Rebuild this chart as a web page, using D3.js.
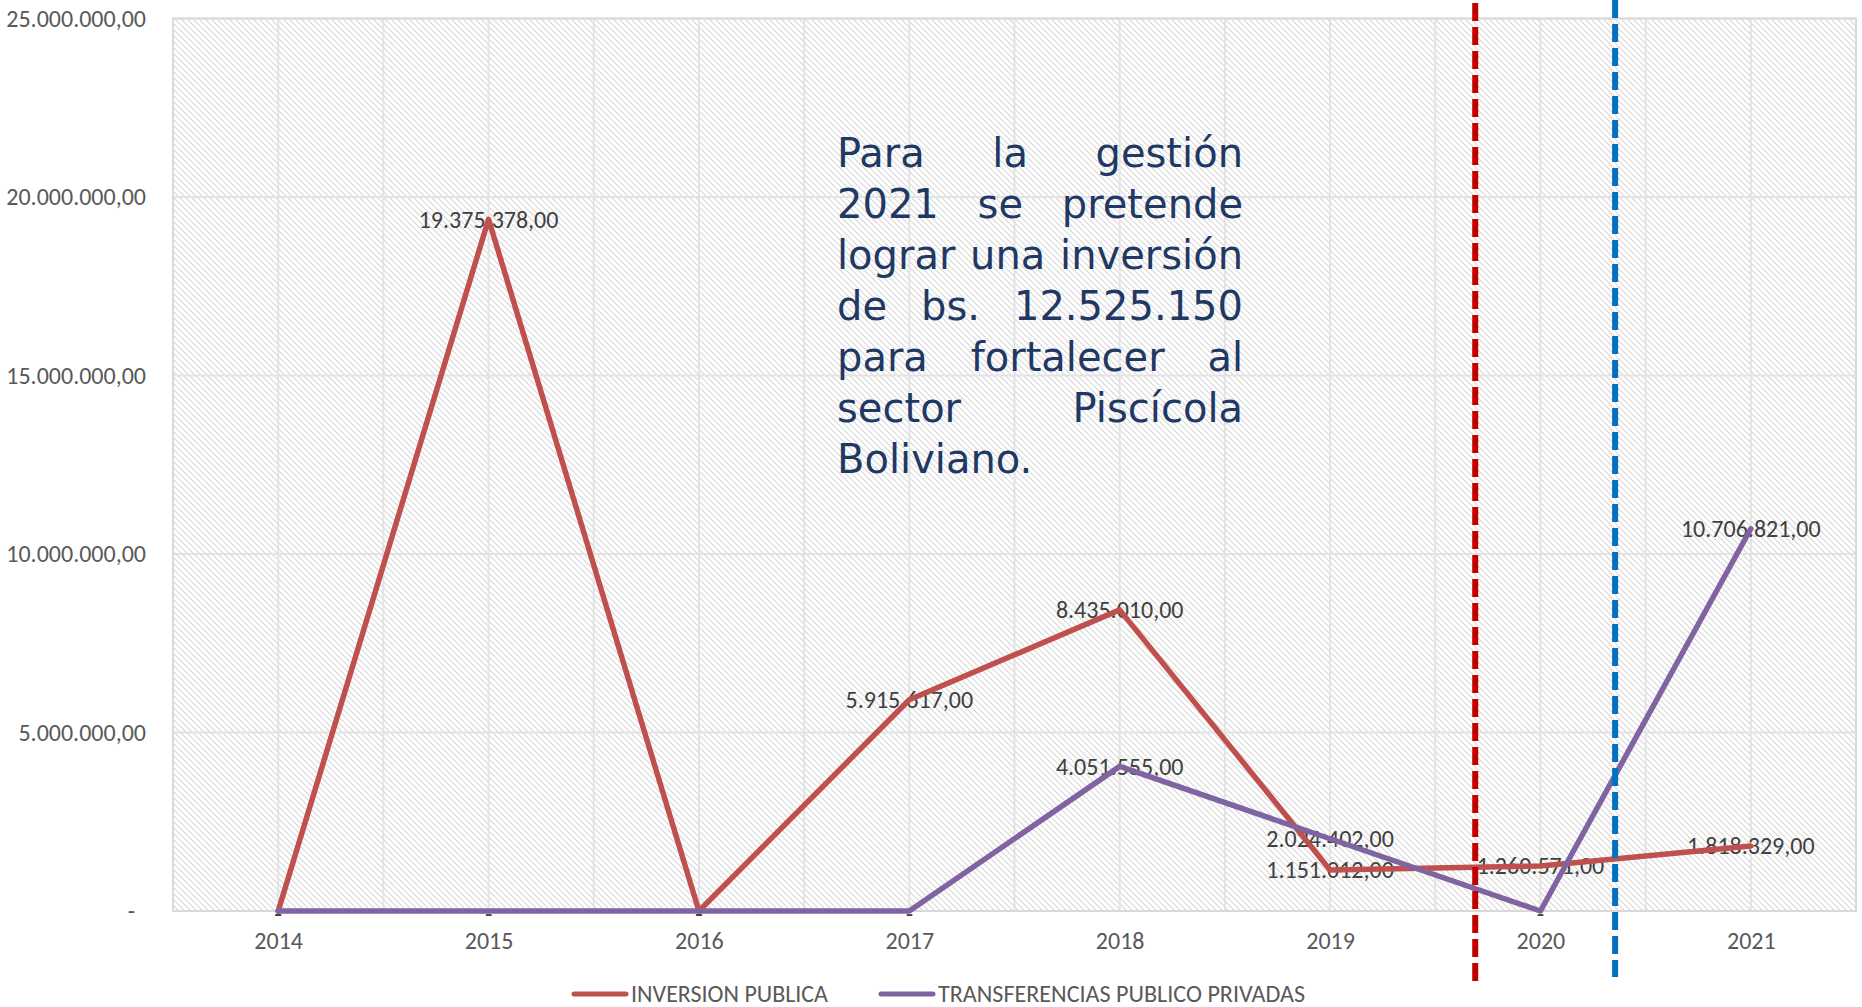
<!DOCTYPE html>
<html>
<head>
<meta charset="utf-8">
<script src="https://cdn.jsdelivr.net/npm/d3@7"></script>
<style>
  body { margin: 0; background: #fff; }
  #chart { width: 1862px; height: 1007px; }
  .tick text { font-family: Carlito, Lato, sans-serif; }
</style>
</head>
<body>
<div id="chart"></div>
<script>
const years = ["2014", "2015", "2016", "2017", "2018", "2019", "2020", "2021"];
const inversionPublica = [0, 19375378, 0, 5915617, 8435010, 1151012, 1260571, 1818329];
const transferencias = [0, 0, 0, 0, 4051555, 2024402, 0, 10706821];
const yTicks = [0, 5000000, 10000000, 15000000, 20000000, 25000000];
const seriesNames = ["INVERSION PUBLICA", "TRANSFERENCIAS PUBLICO PRIVADAS"];
const seriesColors = ["#C0504D", "#8064A2"];
// dashed markers, in category-index units (2014 = 0)
const markerPos = [5.69, 6.355];
const markerColors = ["#C00000", "#0070C0"];
const noteLines = [
  "Para la gestión",
  "2021 se pretende",
  "lograr una inversión",
  "de bs. 12.525.150",
  "para fortalecer al",
  "sector Piscícola",
  "Boliviano."
];

const W = 1862, H = 1007;
const margin = { top: 18.5, right: 6, bottom: 96, left: 173 };
const plotR = W - margin.right, plotB = H - margin.bottom;

const loc = d3.formatLocale({ decimal: ",", thousands: ".", grouping: [3], currency: ["", ""] });
const fmt = loc.format(",.2f");

const svg = d3.select("#chart").append("svg")
  .attr("width", W).attr("height", H);

const defs = svg.append("defs");
const pat = defs.append("pattern")
  .attr("id", "hatch")
  .attr("patternUnits", "userSpaceOnUse")
  .attr("width", 6).attr("height", 6);
pat.append("path")
  .attr("d", "M-1,-1 L7,7 M-1,5 L1,7 M5,-1 L7,1")
  .attr("stroke", "#d8d8d8")
  .attr("stroke-width", 1.2);

const xScale = d3.scalePoint().domain(years).range([margin.left, plotR]).padding(0.5);
const xLin = d3.scaleLinear().domain([-0.5, years.length - 0.5]).range([margin.left, plotR]);
const yScale = d3.scaleLinear().domain([0, 25000000]).range([plotB, margin.top]);

// plot background
svg.append("rect")
  .attr("x", margin.left).attr("y", margin.top)
  .attr("width", plotR - margin.left).attr("height", plotB - margin.top)
  .attr("fill", "url(#hatch)");

// gridlines
svg.append("g").selectAll("line")
  .data(d3.range(-0.5, years.length, 0.5))
  .enter().append("line")
  .attr("x1", d => xLin(d)).attr("x2", d => xLin(d))
  .attr("y1", margin.top).attr("y2", plotB)
  .attr("stroke", "#e3e3e3").attr("stroke-width", 2);

svg.append("g").selectAll("line")
  .data(yTicks)
  .enter().append("line")
  .attr("x1", margin.left).attr("x2", plotR)
  .attr("y1", d => yScale(d)).attr("y2", d => yScale(d))
  .attr("stroke", "#e3e3e3").attr("stroke-width", 2);

svg.append("rect")
  .attr("x", margin.left).attr("y", margin.top)
  .attr("width", plotR - margin.left).attr("height", plotB - margin.top)
  .attr("fill", "none").attr("stroke", "#d9d9d9").attr("stroke-width", 2);

// axes
const yAxis = d3.axisLeft(yScale).tickValues(yTicks).tickSize(0).tickPadding(27)
  .tickFormat(d => d === 0 ? "-" : fmt(d));
const yAxisG = svg.append("g")
  .attr("transform", `translate(${margin.left},0)`)
  .call(yAxis);
yAxisG.select(".domain").remove();
yAxisG.selectAll("text")
  .attr("font-size", 24).attr("fill", "#595959")
  .attr("dx", d => d === 0 ? -11 : 0);

const xAxis = d3.axisBottom(xScale).tickSize(0).tickPadding(21);
const xAxisG = svg.append("g")
  .attr("transform", `translate(0,${plotB})`)
  .call(xAxis);
xAxisG.select(".domain").remove();
xAxisG.selectAll("text").attr("font-size", 24).attr("fill", "#595959");

// note text (justified)
const noteG = svg.append("g")
  .attr("font-family", "'DejaVu Sans', sans-serif")
  .attr("font-size", 40)
  .attr("fill", "#1F3864");
const noteLeft = 837, noteRight = 1243, noteTop = 167, noteStep = 51;
noteLines.forEach((line, i) => {
  const words = line.split(" ");
  const y = noteTop + i * noteStep;
  const nodes = words.map(w => noteG.append("text").attr("y", y).text(w));
  const widths = nodes.map(n => n.node().getComputedTextLength());
  const total = d3.sum(widths);
  const last = i === noteLines.length - 1;
  const gap = (!last && words.length > 1) ? (noteRight - noteLeft - total) / (words.length - 1) : 11;
  let x = noteLeft;
  nodes.forEach((n, j) => {
    n.attr("x", x);
    x += widths[j] + gap;
  });
});

// data labels (drawn under lines)
const series = [inversionPublica, transferencias];
const labelG = svg.append("g")
  .attr("font-family", "Carlito, Lato, sans-serif")
  .attr("font-size", 24)
  .attr("fill", "#404040")
  .attr("text-anchor", "middle");
series.forEach(vals => {
  labelG.selectAll(null)
    .data(vals.map((v, i) => ({ v, year: years[i] })))
    .enter().append("text")
    .attr("x", d => xScale(d.year))
    .attr("y", d => yScale(d.v))
    .attr("dy", d => d.v === 0 ? "0.45em" : "0.35em")
    .text(d => d.v === 0 ? "-" : fmt(d.v));
});

// lines
const line = d3.line()
  .x(d => xScale(d.year))
  .y(d => yScale(d.v));
series.forEach((vals, k) => {
  svg.append("path")
    .datum(vals.map((v, i) => ({ v, year: years[i] })))
    .attr("d", line)
    .attr("fill", "none")
    .attr("stroke", seriesColors[k])
    .attr("stroke-width", 5.5)
    .attr("stroke-linejoin", "round")
    .attr("stroke-linecap", "round");
});

// dashed markers
svg.append("g").selectAll("line")
  .data(markerPos)
  .enter().append("line")
  .attr("x1", d => xLin(d)).attr("x2", d => xLin(d))
  .attr("y1", (d, i) => i === 0 ? 3 : 0)
  .attr("y2", (d, i) => i === 0 ? plotB + 75 : plotB + 66)
  .attr("stroke", (d, i) => markerColors[i])
  .attr("stroke-width", 6)
  .attr("stroke-dasharray", "18 6");

// legend
const legendWidths = [197, 367];
const legendG = svg.append("g")
  .attr("font-family", "Carlito, Lato, sans-serif")
  .attr("font-size", 24)
  .attr("fill", "#595959");
let lx = 574;
const ly = 994;
seriesNames.forEach((name, k) => {
  legendG.append("line")
    .attr("x1", lx).attr("x2", lx + 52)
    .attr("y1", ly).attr("y2", ly)
    .attr("stroke", seriesColors[k])
    .attr("stroke-width", 5)
    .attr("stroke-linecap", "round");
  legendG.append("text")
    .attr("x", lx + 57).attr("y", ly)
    .attr("dy", "0.35em")
    .attr("textLength", legendWidths[k])
    .attr("lengthAdjust", "spacingAndGlyphs")
    .text(name);
  lx += 57 + legendWidths[k] + 53;
});
</script>
</body>
</html>
